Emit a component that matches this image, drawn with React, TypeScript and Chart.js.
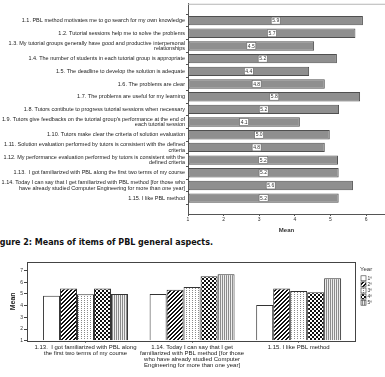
import React, { useEffect, useRef } from 'react';
import { Chart, registerables } from 'chart.js';
Chart.register(...registerables);

const FONT = '"Liberation Sans", Arial, sans-serif';

const itemLabels: (string | string[])[] = [
  '1.1. PBL method motivates me to go search for my own knowledge',
  '1.2. Tutorial sessions help me to solve the problems',
  ['1.3. My tutorial groups generally have good and productive interpersonal', 'relationships'],
  '1.4. The number of students in each tutorial group is appropriate',
  '1.5. The deadline to develop the solution is adequate',
  '1.6. The problems are clear',
  '1.7. The problems are useful for my learning',
  '1.8. Tutors contibute to progress tutorial sessions when necessary',
  ["1.9. Tutors give feedbacks on the tutorial group's performance at the end of", 'each tutorial session'],
  '1.10. Tutors make clear the criteria of solution evaluation',
  ['1.11. Solution evaluation performed by tutors is consistent with the defined', 'criteria'],
  ['1.12. My performance evaluation performed by tutors is consistent with the', 'defined criteria'],
  '1.13.  I got familiarized with PBL along the first two terms of my course',
  ['1.14. Today I can say that I get familiarized with PBL method [for those who', 'have already studied Computer Engineering for more than one year]'],
  '1.15. I like PBL method',
];
const meanValues = [5.91, 5.70, 4.54, 5.18, 4.40, 4.84, 5.83, 5.24, 4.14, 4.98, 4.84, 5.21, 5.23, 5.63, 5.23];
const meanTicks = [1, 2, 3, 4, 5, 6];

const groupLabels: (string | string[])[] = [
  ['1.13.  I got familiarized with PBL along', 'the first two terms of my course'],
  ['1.14. Today I can say that I get', 'familiarized with PBL method [for those', 'who have already studied Computer', 'Engineering for more than one year]'],
  '1.15. I like PBL method',
];
const yearLabels = ['1º', '2º', '3º', '4º', '5º'];
const year1 = [4.86, 5.0, 4.06];
const year2 = [5.46, 5.37, 5.46];
const year3 = [4.98, 5.6, 5.26];
const year4 = [5.46, 6.52, 5.15];
const year5 = [5.0, 6.69, 6.35];
const yearSeries = [year1, year2, year3, year4, year5];
const yTicks2 = [1, 2, 3, 4, 5, 6, 7];

function makePattern(w: number, h: number, draw: (g: CanvasRenderingContext2D) => void): CanvasPattern | string {
  const c = document.createElement('canvas');
  c.width = w; c.height = h;
  const g = c.getContext('2d');
  if (!g) return '#fff';
  g.fillStyle = '#fff';
  g.fillRect(0, 0, w, h);
  draw(g);
  return g.createPattern(c, 'repeat') || '#fff';
}

function buildPatterns() {
  const white = '#ffffff';
  const diag = makePattern(4, 4, (g) => {
    g.fillStyle = '#111';
    for (let x = 0; x < 4; x++) for (let y = 0; y < 4; y++) if ((x + y) % 4 < 2) g.fillRect(x, y, 1, 1);
  });
  const dots = makePattern(3, 2, (g) => {
    g.fillStyle = '#8a8a8a';
    g.fillRect(0, 0, 1, 1);
  });
  const checker = makePattern(4, 4, (g) => {
    g.fillStyle = '#111';
    for (let x = 0; x < 4; x++) for (let y = 0; y < 4; y++) if ((Math.floor(x / 2) + Math.floor(y / 2)) % 2 === 0) g.fillRect(x, y, 1, 1);
  });
  const vstripes = makePattern(2, 2, (g) => {
    g.fillStyle = '#8c8c8c';
    g.fillRect(0, 0, 1, 2);
    g.fillStyle = '#eeeeee';
    g.fillRect(1, 0, 1, 2);
  });
  return [white, diag, dots, checker, vstripes];
}

const valueLabelPlugin = {
  id: 'valueLabels',
  afterDatasetsDraw(chart: any) {
    const ctx = chart.ctx;
    const meta = chart.getDatasetMeta(0);
    ctx.save();
    meta.data.forEach((el: any, i: number) => {
      const cx = (el.x + el.base) / 2;
      const cy = el.y;
      const w = 9, h = 7;
      ctx.fillStyle = '#fff';
      ctx.fillRect(cx - w / 2, cy - h / 2, w, h);
      ctx.strokeStyle = '#666';
      ctx.lineWidth = 0.6;
      ctx.strokeRect(cx - w / 2, cy - h / 2, w, h);
      ctx.fillStyle = '#333';
      ctx.font = `5px ${FONT}`;
      ctx.textAlign = 'center';
      ctx.textBaseline = 'middle';
      ctx.fillText(meanValues[i].toFixed(1), cx, cy + 0.3);
    });
    ctx.restore();
  },
};

const topLinePlugin = {
  id: 'topLine',
  afterDraw(chart: any) {
    const { ctx, chartArea } = chart;
    ctx.save();
    ctx.strokeStyle = '#b5b5b5';
    ctx.lineWidth = 1;
    ctx.beginPath();
    ctx.moveTo(chartArea.left, chartArea.top + 0.5);
    ctx.lineTo(chart.width, chartArea.top + 0.5);
    ctx.stroke();
    ctx.restore();
  },
};

function makeFrameLegendPlugin(patterns: (CanvasPattern | string)[]) {
  return {
    id: 'frameLegend',
    afterDraw(chart: any) {
      const { ctx, chartArea } = chart;
      ctx.save();
      ctx.strokeStyle = '#444';
      ctx.lineWidth = 1;
      ctx.strokeRect(Math.round(chartArea.left) + 0.5, Math.round(chartArea.top) + 0.5,
        Math.round(chartArea.right - chartArea.left) - 1, Math.round(chartArea.bottom - chartArea.top));
      // legend
      ctx.fillStyle = '#333';
      ctx.font = `6px ${FONT}`;
      ctx.textAlign = 'left';
      ctx.textBaseline = 'middle';
      ctx.fillText('Year', 360, 17);
      yearLabels.forEach((lab, i) => {
        const y = 26.3 + 6.1 * i;
        ctx.fillStyle = patterns[i] as any;
        ctx.fillRect(361, y - 2.5, 5, 5);
        ctx.strokeStyle = '#333';
        ctx.lineWidth = 0.6;
        ctx.strokeRect(361, y - 2.5, 5, 5);
        ctx.fillStyle = '#333';
        ctx.font = `5px ${FONT}`;
        ctx.fillText(lab, 367.5, y);
      });
      ctx.restore();
    },
  };
}

export default function App() {
  const topRef = useRef<HTMLCanvasElement>(null);
  const botRef = useRef<HTMLCanvasElement>(null);

  useEffect(() => {
    if (!topRef.current || !botRef.current) return;
    const top = new Chart(topRef.current, {
      type: 'bar',
      data: {
        datasets: [{
          data: meanValues.map((v, i) => ({ x: v, y: i })) as any,
          backgroundColor: '#8f8f8f',
          borderColor: '#4f4f4f',
          borderWidth: 1,
          borderSkipped: false,
          base: 1,
          barPercentage: 0.74,
          categoryPercentage: 1,
        } as any],
      },
      options: {
        indexAxis: 'y',
        animation: false,
        responsive: false,
        maintainAspectRatio: false,
        layout: { padding: { top: 2, right: 0, left: 0, bottom: 0 } },
        plugins: { legend: { display: false }, tooltip: { enabled: false } },
        scales: {
          y: {
            type: 'linear', reverse: true, min: -1.33, max: 15.25, offset: false,
            afterBuildTicks: (s: any) => { s.ticks = itemLabels.map((_, i) => ({ value: i })); },
            afterFit: (s: any) => { s.width = 188; },
            ticks: {
              autoSkip: false,
              callback: (v: any) => itemLabels[v as number],
              font: { family: FONT, size: 5.5, lineHeight: 1 },
              color: '#222',
              padding: 1,
            },
            grid: { drawOnChartArea: false, tickLength: 2, color: '#555' },
            border: { color: '#555' },
          },
          x: {
            type: 'linear', min: 1, max: 6.53, position: 'bottom',
            afterBuildTicks: (s: any) => { s.ticks = meanTicks.map((v) => ({ value: v })); },
            afterFit: (s: any) => { s.height = 22; },
            ticks: { font: { family: FONT, size: 5 }, color: '#333', padding: 1, maxRotation: 0 },
            grid: { drawOnChartArea: false, tickLength: 2, color: '#555' },
            border: { color: '#555' },
            title: { display: true, text: 'Mean', color: '#333', font: { family: FONT, size: 6, weight: 'bold' }, padding: { top: 0, bottom: 2 } },
          },
        },
      } as any,
      plugins: [valueLabelPlugin, topLinePlugin],
    });

    const patterns = buildPatterns();
    const bot = new Chart(botRef.current, {
      type: 'bar',
      data: {
        datasets: yearSeries.map((arr, k) => ({
          label: yearLabels[k],
          data: arr.map((v, i) => ({ x: i, y: v })) as any,
          backgroundColor: patterns[k] as any,
          borderColor: '#333',
          borderWidth: 1,
          borderSkipped: 'bottom',
          base: 1,
          barPercentage: 1,
          categoryPercentage: 0.797,
        })) as any,
      },
      options: {
        animation: false,
        responsive: false,
        maintainAspectRatio: false,
        layout: { padding: { top: 10, right: 29, left: 0, bottom: 0 } },
        plugins: { legend: { display: false }, tooltip: { enabled: false } },
        scales: {
          x: {
            type: 'linear', min: -0.549, max: 2.538, offset: false,
            afterBuildTicks: (s: any) => { s.ticks = groupLabels.map((_, i) => ({ value: i })); },
            afterFit: (s: any) => { s.height = 36.3; },
            ticks: {
              autoSkip: false, maxRotation: 0, minRotation: 0,
              callback: (v: any) => groupLabels[v as number],
              font: { family: FONT, size: 6, lineHeight: 1 },
              color: '#222', padding: 1.3,
            },
            grid: { drawOnChartArea: false, tickLength: 2, color: '#444', offset: false },
            border: { display: false },
          },
          y: {
            type: 'linear', min: 1, max: 7.74,
            afterBuildTicks: (s: any) => { s.ticks = yTicks2.map((v) => ({ value: v })); },
            afterFit: (s: any) => { s.width = 27; },
            ticks: { font: { family: FONT, size: 5 }, color: '#333', padding: 1 },
            grid: { drawOnChartArea: false, tickLength: 3, color: '#444' },
            border: { display: false },
            title: { display: true, text: 'Mean', color: '#222', font: { family: FONT, size: 7, weight: 'bold' }, padding: { top: 8.8, bottom: 0 } },
          },
        },
      } as any,
      plugins: [makeFrameLegendPlugin(patterns)],
    });

    return () => { top.destroy(); bot.destroy(); };
  }, []);

  return (
    <div style={{ position: 'fixed', left: 0, top: 0, width: 385, height: 377, background: '#fff', overflow: 'hidden' }}>
      <canvas ref={topRef} width={385} height={236} style={{ position: 'absolute', left: 0, top: 0, display: 'block' }} />
      <div style={{ position: 'absolute', left: -8.5, top: 238, whiteSpace: 'nowrap', font: `bold 8px "DejaVu Sans", Verdana, sans-serif`, lineHeight: '10px', color: '#111' }}>
        Figure 2: Means of items of PBL general aspects.
      </div>
      <canvas ref={botRef} width={385} height={125} style={{ position: 'absolute', left: 0, top: 252, display: 'block' }} />
    </div>
  );
}
